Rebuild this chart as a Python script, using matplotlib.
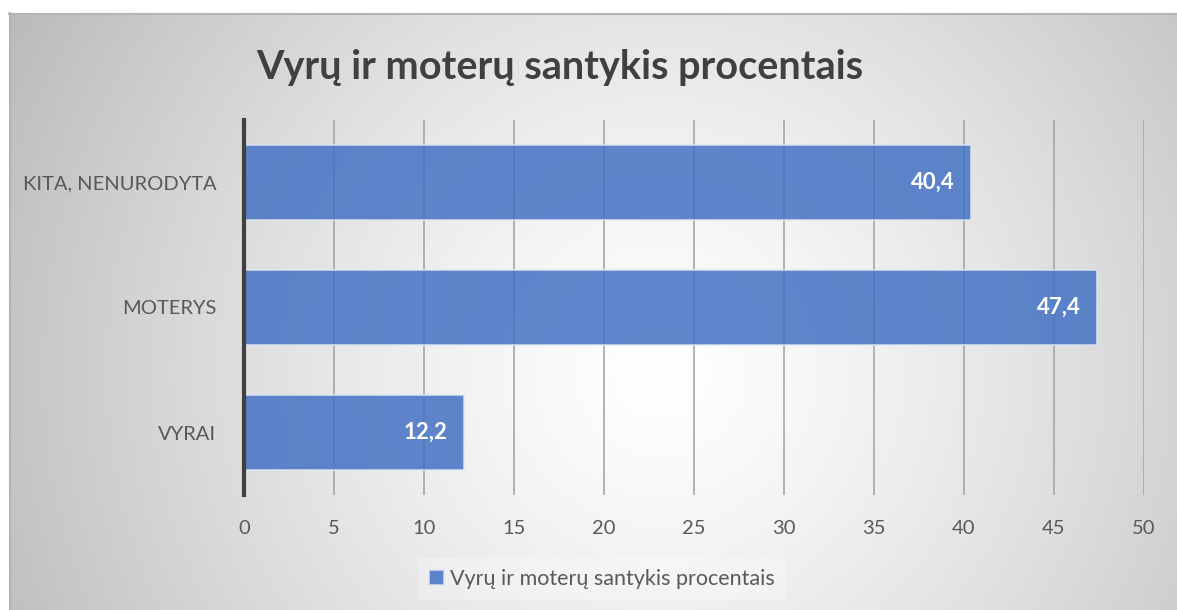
import numpy as np
import matplotlib
matplotlib.use('Agg')
import matplotlib.pyplot as plt

plt.rcParams['font.family'] = ['Lato', 'DejaVu Sans']

categories = ['VYRAI', 'MOTERYS', 'KITA, NENURODYTA']
values = [12.2, 47.4, 40.4]
labels = ['12,2', '47,4', '40,4']
series_name = 'Vyrų ir moterų santykis procentais'
title = 'Vyrų ir moterų santykis procentais'
xticks = [0, 5, 10, 15, 20, 25, 30, 35, 40, 45, 50]

W, H = 1177, 610
fig = plt.figure(figsize=(W / 100, H / 100), dpi=100)

# radial gradient background inside the chart frame
bg = fig.add_axes([0, 0, 1, 1])
bg.set_xlim(0, W)
bg.set_ylim(H, 0)
bg.axis('off')
yy, xx = np.mgrid[0:H, 0:W]
d = np.sqrt((xx - 660) ** 2 + (yy - 370) ** 2) / 700.0
g = np.clip(1.0 - 0.25 * d ** 1.3, 0, 1)
img = np.dstack([g, g, g])
img[:13, :, :] = 1.0
img[:, :9, :] = 1.0
bg.imshow(img, extent=(0, W, H, 0), interpolation='bilinear')
bg.plot([9, W], [13.5, 13.5], color='#b4b4b4', lw=1.5)
bg.plot([9.5, 9.5], [13, H], color='#b4b4b4', lw=1.5)

ax = fig.add_axes([244 / W, 1 - 495 / H, (1144 - 244) / W, (495 - 120) / H])
ax.patch.set_alpha(0)
y = np.arange(len(categories))
bars = ax.barh(y, values, height=0.6, color='#4472C4', alpha=0.85,
               edgecolor='#dfe6f3', linewidth=1.2, zorder=3, label=series_name)
for yi, v, t in zip(y, values, labels):
    ax.text(v - 0.9, yi, t, ha='right', va='center', color='white',
            fontsize=16, fontweight='bold', zorder=4)

ax.set_xlim(0, 50)
ax.set_ylim(-0.5, 2.5)
ax.set_xticks(xticks)
ax.set_yticks(y)
ax.set_yticklabels(categories)
ax.grid(axis='x', color='#a6a6a6', lw=1.2, zorder=0)
ax.tick_params(axis='both', length=0, labelsize=14.5, labelcolor='#595959')
ax.tick_params(axis='x', pad=18)
ax.tick_params(axis='y', pad=20)
for s in ['top', 'right', 'bottom']:
    ax.spines[s].set_visible(False)
ax.spines['left'].set_color('#404040')
ax.spines['left'].set_linewidth(3)
ax.spines['left'].set_zorder(5)

fig.text(560 / W, 1 - 68 / H, title, ha='center', va='center',
         fontsize=28.5, fontweight='bold', color='#404040')

leg = fig.legend(handles=[bars], labels=[series_name], loc='center',
                 bbox_to_anchor=(602 / W, 1 - 579 / H), frameon=True,
                 fontsize=15.5, handlelength=0.7, handleheight=0.7,
                 handletextpad=0.3, borderpad=0.5)
leg.get_frame().set_facecolor('white')
leg.get_frame().set_alpha(0.25)
leg.get_frame().set_edgecolor('none')
for t in leg.get_texts():
    t.set_color('#595959')

fig.savefig('out.png', dpi=100)
